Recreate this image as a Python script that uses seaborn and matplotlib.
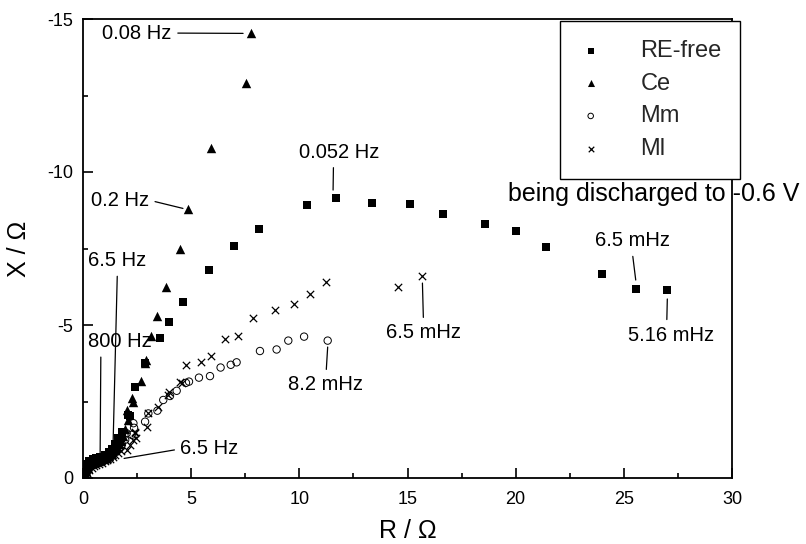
import matplotlib
matplotlib.use("Agg")
import matplotlib.pyplot as plt
from matplotlib.ticker import MultipleLocator
import seaborn as sns

# ── Data (R / Ohm vs X / Ohm) ─────────────────────────────────────────────────
re_free_r = [0.02, 0.05, 0.08, 0.10, 0.12, 0.15, 0.20, 0.20, 0.25, 0.30, 0.32, 0.40,
             0.45, 0.50, 0.60, 0.60, 0.70, 0.80, 0.80, 0.90, 1.00, 1.00, 1.10, 1.20,
             1.20, 1.30, 1.35, 1.40, 1.50, 1.50, 1.58, 1.60, 1.66, 1.74, 1.79,
             2.10, 2.17, 2.40, 2.87, 3.55, 3.96, 4.62, 5.84, 6.98, 8.14, 10.34,
             11.70, 13.36, 15.12, 16.63, 18.60, 20.02, 21.41, 24.01, 25.55, 27.01]
re_free_x = [-0.10, -0.05, -0.25, -0.15, -0.35, -0.25, -0.35, -0.45, -0.42, -0.55, -0.48, -0.52,
             -0.62, -0.55, -0.58, -0.66, -0.60, -0.62, -0.70, -0.64, -0.67, -0.75, -0.70, -0.74,
             -0.85, -0.80, -0.95, -0.88, -0.97, -1.12, -1.07, -1.30, -1.18, -1.30, -1.51,
             -2.06, -2.04, -2.97, -3.76, -4.56, -5.11, -5.76, -6.80, -7.58, -8.15, -8.92,
             -9.16, -9.00, -8.94, -8.64, -8.30, -8.06, -7.55, -6.68, -6.19, -6.13]

ce_r = [0.05, 0.08, 0.10, 0.15, 0.18, 0.22, 0.30, 0.30, 0.38, 0.45, 0.48, 0.60,
        0.65, 0.72, 0.85, 0.90, 0.98, 1.10, 1.10, 1.22, 1.30, 1.34, 1.45, 1.45,
        1.55, 1.60, 1.65, 1.70, 1.75, 1.85, 1.95, 2.02, 2.10, 2.25, 2.30, 2.68,
        2.88, 2.90, 3.13, 3.44, 3.82, 4.48, 4.87, 5.90, 7.52, 7.75]
ce_x = [-0.20, -0.10, -0.32, -0.22, -0.45, -0.33, -0.42, -0.55, -0.47, -0.60, -0.50, -0.52,
        -0.62, -0.55, -0.58, -0.68, -0.62, -0.66, -0.78, -0.72, -0.90, -0.80, -0.90, -1.05,
        -1.00, -1.25, -1.10, -1.45, -1.22, -1.38, -1.60, -2.22, -1.90, -2.60, -2.49, -3.18,
        -3.75, -3.86, -4.64, -5.30, -6.25, -7.50, -8.79, -10.79, -12.92, -14.53]

mm_r = [0.05, 0.12, 0.20, 0.28, 0.36, 0.45, 0.55, 0.68, 0.80, 0.93, 1.05, 1.18,
        1.30, 1.42, 1.55, 1.68, 1.80, 1.95, 2.02, 2.25, 2.33, 2.36, 2.87, 3.02,
        3.44, 3.71, 4.02, 4.33, 4.76, 4.90, 5.36, 5.87, 6.36, 6.83, 7.10, 8.18,
        8.95, 9.49, 10.22, 11.31]
mm_x = [-0.03, -0.10, -0.20, -0.30, -0.38, -0.43, -0.47, -0.50, -0.53, -0.56, -0.60, -0.64,
        -0.70, -0.78, -0.88, -0.98, -1.10, -1.25, -1.46, -1.41, -1.79, -1.64, -1.84, -2.11,
        -2.20, -2.55, -2.68, -2.85, -3.11, -3.15, -3.28, -3.33, -3.61, -3.70, -3.78, -4.15,
        -4.20, -4.49, -4.62, -4.49]

ml_r = [0.10, 0.20, 0.30, 0.40, 0.50, 0.62, 0.75, 0.88, 1.00, 1.12, 1.25, 1.38,
        1.50, 1.62, 1.75, 2.02, 2.17, 2.33, 2.45, 2.40, 2.40, 2.94, 3.02, 3.48,
        3.94, 3.99, 4.48, 4.56, 4.75, 5.46, 5.92, 6.57, 7.18, 7.85, 8.88, 9.75,
        10.49, 11.23, 14.55, 15.69]
ml_x = [-0.05, -0.15, -0.25, -0.33, -0.38, -0.42, -0.46, -0.50, -0.54, -0.58, -0.63, -0.70,
        -0.76, -0.82, -0.87, -0.92, -1.08, -1.24, -1.30, -1.46, -1.51, -1.68, -2.11, -2.33,
        -2.71, -2.82, -3.15, -3.09, -3.69, -3.78, -4.00, -4.53, -4.65, -5.24, -5.49, -5.68,
        -6.00, -6.42, -6.25, -6.61]

# frequency labels: (text, text position, end of leader line, relpos on text box)
ANNOTATIONS = [
    ("0.08 Hz",  (2.50, -14.54), (7.40, -14.53), (1.0, 0.5)),
    ("0.2 Hz",   (1.71, -9.08),  (4.62, -8.81),  (1.0, 0.5)),
    ("0.052 Hz", (11.84, -10.65), (11.56, -9.41), (0.43, 0.0)),
    ("6.5 Hz",   (1.59, -7.10),  (1.39, -1.10),  (0.5, 0.0)),
    ("800 Hz",   (1.71, -4.46),  (0.79, -0.59),  (0.2, 0.0)),
    ("6.5 Hz",   (5.85, -0.95),  (1.90, -0.64),  (0.0, 0.5)),
    ("8.2 mHz",  (11.23, -3.04), (11.31, -4.28), (0.5, 1.0)),
    ("6.5 mHz",  (15.74, -4.74), (15.69, -6.37), (0.5, 1.0)),
    ("6.5 mHz",  (25.38, -7.75), (25.55, -6.47), (0.5, 0.0)),
    ("5.16 mHz", (27.18, -4.67), (27.01, -5.85), (0.45, 1.0)),
]

# ── Style ──────────────────────────────────────────────────────────────────────
sns.set_theme(style="ticks")
plt.rcParams["font.family"] = ["Liberation Sans", "DejaVu Sans"]
plt.rcParams["axes.unicode_minus"] = False

fig = plt.figure(figsize=(8.06, 5.44), dpi=100)
ax = fig.add_axes([83 / 806, 1 - 478 / 544, (732 - 83) / 806, (478 - 19) / 544])

sns.scatterplot(x=re_free_r, y=re_free_x, marker="s", s=28, color="black",
                edgecolor="black", linewidth=0, label="RE-free", ax=ax, zorder=3)
sns.scatterplot(x=ce_r, y=ce_x, marker="^", s=46, color="black",
                edgecolor="black", linewidth=0, label="Ce", ax=ax, zorder=3)
sns.scatterplot(x=mm_r, y=mm_x, marker="o", s=28, facecolor="none",
                edgecolor="black", linewidth=0.7, label="Mm", ax=ax, zorder=3)
sns.scatterplot(x=ml_r, y=ml_x, marker="x", s=28, color="black",
                linewidth=0.9, label="Ml", ax=ax, zorder=3)

# ── Axes ───────────────────────────────────────────────────────────────────────
ax.set_xlim(0, 30)
ax.set_ylim(0, -15)
ax.xaxis.set_major_locator(MultipleLocator(5))
ax.xaxis.set_minor_locator(MultipleLocator(2.5))
ax.yaxis.set_major_locator(MultipleLocator(5))
ax.yaxis.set_minor_locator(MultipleLocator(2.5))
ax.tick_params(which="both", direction="in", color="black", width=1.2,
               top=False, right=False, labelsize=13, labelcolor="black")
ax.tick_params(which="major", length=7)
ax.tick_params(which="minor", length=3.5)
ax.tick_params(axis="x", pad=9)
ax.tick_params(axis="y", pad=7)
for sp in ax.spines.values():
    sp.set_color("black")
    sp.set_linewidth(1.3)

ax.set_xlabel("R / Ω", fontsize=18, color="black", labelpad=8)
ax.set_ylabel("X / Ω", fontsize=18, color="black", labelpad=12)

# ── Annotations ────────────────────────────────────────────────────────────────
for text, xytext, xy, relpos in ANNOTATIONS:
    ax.annotate(text, xy=xy, xytext=xytext, ha="center", va="center",
                fontsize=14.5, color="black", annotation_clip=False,
                arrowprops=dict(arrowstyle="-", color="black", lw=0.9,
                                shrinkA=2, shrinkB=0, relpos=relpos))

ax.text(19.65, -9.28, "being discharged to -0.6 V", ha="left", va="center",
        fontsize=18, color="black", clip_on=False)

# ── Legend ─────────────────────────────────────────────────────────────────────
leg = ax.legend(loc="upper left", bbox_to_anchor=(560 / 806, 1 - 21 / 544),
                bbox_transform=fig.transFigure, fontsize=17, frameon=True,
                fancybox=False, framealpha=1, edgecolor="black",
                borderpad=0.8, labelspacing=0.45, handlelength=1.0,
                handletextpad=1.6, borderaxespad=0, markerscale=0.75)
leg.get_frame().set_linewidth(1.0)

fig.savefig("out.png", dpi=100)
